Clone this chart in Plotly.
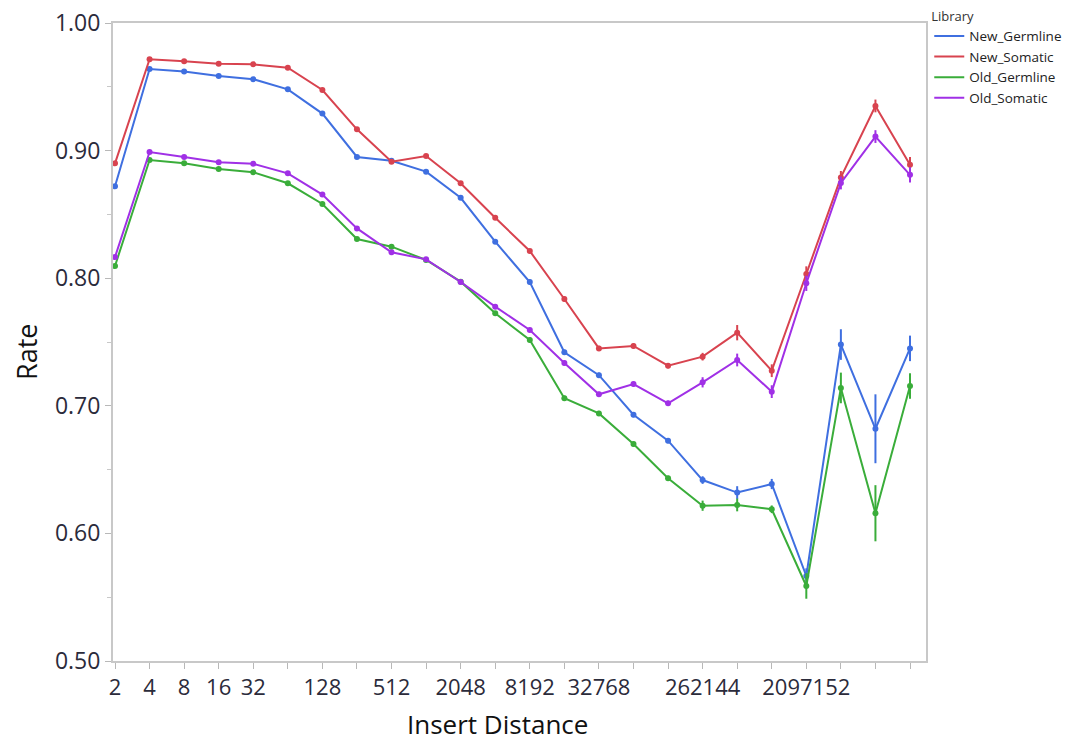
import plotly.graph_objects as go

insert_distance = [2**k for k in range(1, 25)]

new_germline = [0.872, 0.964, 0.962, 0.9585, 0.956, 0.948, 0.929, 0.895, 0.892, 0.8835, 0.863, 0.8286, 0.797,
                0.742, 0.724, 0.693, 0.6727, 0.6418, 0.632, 0.6387, 0.5666, 0.748, 0.682, 0.745]
new_germline_err = [0.001, 0.001, 0.001, 0.001, 0.001, 0.001, 0.001, 0.001, 0.001, 0.001, 0.001, 0.001, 0.002,
                    0.002, 0.002, 0.002, 0.002, 0.003, 0.005, 0.004, 0.006, 0.012, 0.027, 0.01]

new_somatic = [0.890, 0.9716, 0.970, 0.968, 0.9676, 0.965, 0.9475, 0.9167, 0.8913, 0.8958, 0.8744, 0.8474, 0.8213,
               0.7837, 0.745, 0.7469, 0.7314, 0.7385, 0.7573, 0.7275, 0.8033, 0.879, 0.935, 0.889]
new_somatic_err = [0.001, 0.001, 0.001, 0.001, 0.001, 0.001, 0.001, 0.001, 0.001, 0.001, 0.001, 0.001, 0.001,
                   0.002, 0.002, 0.002, 0.002, 0.003, 0.006, 0.005, 0.006, 0.005, 0.005, 0.006]

old_germline = [0.8096, 0.8926, 0.890, 0.8856, 0.883, 0.8744, 0.8582, 0.8307, 0.8247, 0.8143, 0.7973, 0.7725, 0.7516,
                0.706, 0.694, 0.670, 0.6432, 0.6217, 0.6223, 0.6189, 0.5588, 0.714, 0.6158, 0.7155]
old_germline_err = [0.001, 0.001, 0.001, 0.001, 0.001, 0.001, 0.001, 0.001, 0.001, 0.001, 0.001, 0.001, 0.002,
                    0.002, 0.002, 0.002, 0.002, 0.004, 0.005, 0.003, 0.01, 0.012, 0.022, 0.01]

old_somatic = [0.8166, 0.8989, 0.895, 0.8908, 0.8897, 0.8822, 0.8655, 0.839, 0.8203, 0.8148, 0.797, 0.7777, 0.7594,
               0.7335, 0.709, 0.717, 0.702, 0.7184, 0.7359, 0.7111, 0.796, 0.8746, 0.911, 0.881]
old_somatic_err = [0.001, 0.001, 0.001, 0.001, 0.001, 0.001, 0.001, 0.001, 0.001, 0.001, 0.001, 0.001, 0.001,
                   0.002, 0.002, 0.002, 0.002, 0.004, 0.005, 0.005, 0.006, 0.005, 0.005, 0.006]

series = [
    ("New_Germline", new_germline, new_germline_err, "#3f6fe0"),
    ("New_Somatic", new_somatic, new_somatic_err, "#d8434f"),
    ("Old_Germline", old_germline, old_germline_err, "#3aad3a"),
    ("Old_Somatic", old_somatic, old_somatic_err, "#a030e6"),
]

labeled = {2, 4, 8, 16, 32, 128, 512, 2048, 8192, 32768, 262144, 2097152}
tick_text = [str(v) if v in labeled else "" for v in insert_distance]

FONT = "Open Sans, DejaVu Sans, sans-serif"

fig = go.Figure()
for name, vals, errs, color in series:
    fig.add_trace(go.Scatter(
        x=insert_distance, y=vals, name=name, mode="lines+markers",
        line=dict(color=color, width=2),
        marker=dict(color=color, size=6),
        error_y=dict(type="data", array=errs, visible=True, color=color, thickness=2, width=0),
        showlegend=False, legendgroup=name,
    ))
# legend entries (line only, as in the reference)
for name, vals, errs, color in series:
    fig.add_trace(go.Scatter(
        x=[None], y=[None], name=name, mode="lines",
        line=dict(color=color, width=2), legendgroup=name, showlegend=True,
    ))

tick_color = "#2b2b3b"

fig.update_layout(
    width=1073, height=743,
    margin=dict(l=113, r=147, t=23, b=82, autoexpand=False),
    paper_bgcolor="white", plot_bgcolor="white",
    font=dict(family=FONT),
    showlegend=True,
    legend=dict(
        title=dict(text="Library", font=dict(size=13, color="#333333")),
        font=dict(size=13.5, color="#222222"),
        x=1.004, y=1.03, xanchor="left", yanchor="top",
        tracegroupgap=0, itemwidth=30,
        bgcolor="rgba(0,0,0,0)",
    ),
    xaxis=dict(
        type="log",
        range=[0.2836, 7.364],
        tickmode="array", tickvals=insert_distance, ticktext=tick_text,
        ticks="outside", ticklen=6, tickcolor="#b8b8b8", tickwidth=1,
        showline=True, linecolor="#c8c8c8", linewidth=2, mirror=True,
        showgrid=False, zeroline=False,
        tickfont=dict(family=FONT, size=22, color=tick_color),
    ),
    yaxis=dict(
        range=[0.5, 1.0],
        tickmode="array", tickvals=[0.5, 0.6, 0.7, 0.8, 0.9, 1.0], tickformat=".2f",
        ticks="outside", ticklen=6, tickcolor="#b8b8b8", tickwidth=1,
        minor=dict(tickvals=[0.55, 0.65, 0.75, 0.85, 0.95], ticks="outside", ticklen=4, tickcolor="#c8c8c8"),
        showline=True, linecolor="#c8c8c8", linewidth=2, mirror=True,
        showgrid=False, zeroline=False,
        tickfont=dict(family=FONT, size=23, color=tick_color),
    ),
    annotations=[
        dict(text="Insert Distance", xref="paper", yref="paper",
             x=(497 - 113) / 813, y=(661 - 724) / 638, xanchor="center", yanchor="middle",
             showarrow=False, font=dict(family=FONT, size=26, color="#111111")),
        dict(text="Rate", xref="paper", yref="paper",
             x=(26 - 113) / 813, y=(661 - 352) / 638, xanchor="center", yanchor="middle",
             textangle=-90, showarrow=False, font=dict(family=FONT, size=27, color="#111111")),
    ],
)

fig.write_html("out.html")
